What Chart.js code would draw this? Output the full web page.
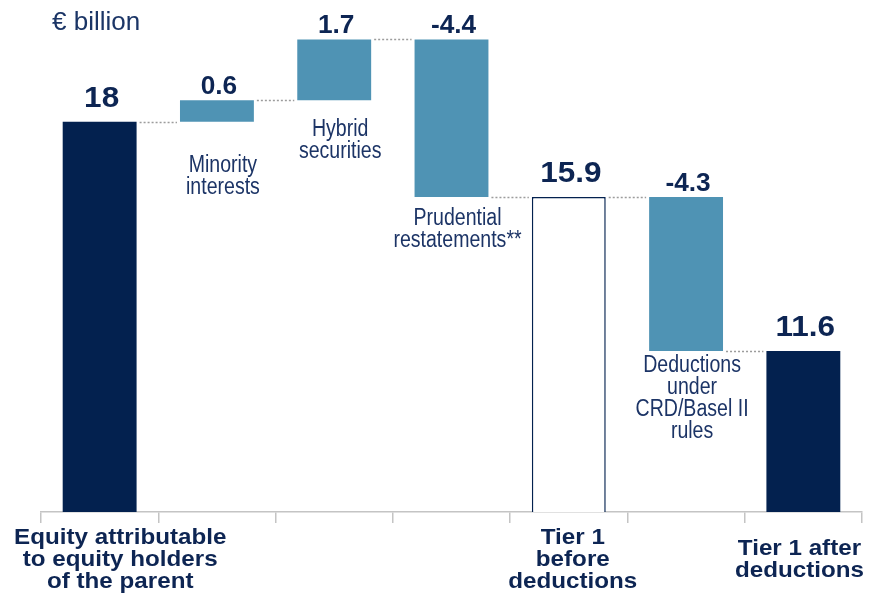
<!DOCTYPE html>
<html>
<head>
<meta charset="utf-8">
<script src="https://cdn.jsdelivr.net/npm/chart.js@4"></script>
<style>
  body { margin: 0; background: #fff; }
  #capitalChart { display: block; }
</style>
</head>
<body>
<canvas id="capitalChart" width="878" height="595"></canvas>
<script>
// Tier 1 capital walk, € billion
const categories = [
    ['Equity attributable', 'to equity holders', 'of the parent'],
    [],
    [],
    [],
    ['Tier 1', 'before', 'deductions'],
    [],
    ['Tier 1 after', 'deductions']
];
const stepNotes = [
    null,
    ['Minority', 'interests'],
    ['Hybrid', 'securities'],
    ['Prudential', 'restatements**'],
    null,
    ['Deductions', 'under', 'CRD/Basel II', 'rules'],
    null
];
const amounts = [18, 0.6, 1.7, -4.4, 15.9, -4.3, 11.6];
const isTotal = [true, false, false, false, true, false, true];

const NAVY = '#03214f';
const TEAL = '#4f93b4';
const TEXT = '#0d2553';

// floating ranges: totals start from zero, steps move the running total
let running = 0;
const ranges = amounts.map((v, i) => {
    if (isTotal[i]) {
        running = v;
        return [0, v];
    }
    const from = running;
    running = +(running + v).toFixed(1);
    return [from, running];
});
const levels = ranges.map(r => r[1]);

const fillColors = isTotal.map((t, i) => t ? (i === 4 ? '#ffffff' : NAVY) : TEAL);
const borderWidths = isTotal.map((t, i) => i === 4 ? 1.5 : 0);

// draws text squeezed or stretched horizontally around x
function stretchedText(ctx, text, x, y, sx) {
    ctx.save();
    ctx.translate(x, y);
    ctx.scale(sx, 1);
    ctx.fillText(text, 0, 0);
    ctx.restore();
}

const waterfallDecor = {
    id: 'waterfallDecor',
    afterDatasetsDraw(chart, args, opts) {
        const { ctx, chartArea } = chart;
        const meta = chart.getDatasetMeta(0);
        const y = chart.scales.y;

        ctx.save();

        // dotted connectors between neighbouring bars
        ctx.strokeStyle = '#9c9c9c';
        ctx.lineWidth = 1.5;
        ctx.setLineDash([2, 2]);
        for (let i = 0; i < meta.data.length - 1; i++) {
            const a = meta.data[i], b = meta.data[i + 1];
            const py = Math.round(y.getPixelForValue(levels[i])) + 0.5;
            ctx.beginPath();
            ctx.moveTo(a.x + a.width / 2 + 3, py);
            ctx.lineTo(b.x - b.width / 2 - 3, py);
            ctx.stroke();
        }
        ctx.setLineDash([]);

        // value labels above each bar
        ctx.fillStyle = TEXT;
        ctx.textAlign = 'center';
        ctx.textBaseline = 'alphabetic';
        meta.data.forEach((bar, i) => {
            const top = y.getPixelForValue(Math.max(...ranges[i]));
            ctx.font = isTotal[i] ? 'bold 30px "Liberation Sans", Arial, sans-serif'
                                  : 'bold 25px "Liberation Sans", Arial, sans-serif';
            stretchedText(ctx, String(amounts[i]), bar.x + 2, top - (isTotal[i] ? 15 : 6), 1.05);
        });

        // step descriptions under the floating bars
        ctx.font = '23px "Liberation Sans", Arial, sans-serif';
        ctx.fillStyle = '#1c3466';
        ctx.textBaseline = 'top';
        meta.data.forEach((bar, i) => {
            const note = stepNotes[i];
            if (!note) return;
            const bottom = y.getPixelForValue(Math.min(...ranges[i]));
            note.forEach((line, k) => {
                stretchedText(ctx, line, bar.x + 6, bottom + opts.noteGap[i] + k * 22, 0.85);
            });
        });

        // category captions under the axis, kept inside the canvas
        const sx = 1.1;
        ctx.font = 'bold 22px "Liberation Sans", Arial, sans-serif';
        ctx.fillStyle = TEXT;
        ctx.textBaseline = 'middle';
        const margin = 14;
        meta.data.forEach((bar, i) => {
            const lines = categories[i];
            if (!lines.length) return;
            const w = sx * Math.max(...lines.map(l => ctx.measureText(l).width));
            const cx = Math.min(Math.max(bar.x + 4, margin + w / 2), chart.width - margin - w / 2);
            const cy = chartArea.bottom + 48;
            lines.forEach((line, k) => {
                stretchedText(ctx, line, cx, cy + (k - (lines.length - 1) / 2) * 22, sx);
            });
        });

        // unit caption
        ctx.font = '26px "Liberation Sans", Arial, sans-serif';
        ctx.fillStyle = '#1b3566';
        ctx.textAlign = 'left';
        ctx.textBaseline = 'alphabetic';
        ctx.fillText('€ billion', 52, 30);

        ctx.restore();
    }
};

new Chart(document.getElementById('capitalChart'), {
    type: 'bar',
    data: {
        labels: categories.map(c => c.join(' ')),
        datasets: [{
            data: ranges,
            backgroundColor: fillColors,
            borderColor: NAVY,
            borderWidth: borderWidths,
            borderSkipped: false,
            barPercentage: 0.63,
            categoryPercentage: 1
        }]
    },
    options: {
        responsive: false,
        animation: false,
        layout: { padding: { left: 41, right: 16, top: 0, bottom: 0 } },
        scales: {
            x: {
                offset: true,
                grid: {
                    offset: true,
                    drawOnChartArea: false,
                    drawTicks: true,
                    tickLength: 11,
                    color: '#c4c4c4',
                    lineWidth: 1.5
                },
                border: { display: true, color: '#c4c4c4', width: 1.5 },
                ticks: { display: false },
                afterFit: s => { s.height = 83; }
            },
            y: {
                display: false,
                min: 7.1,
                max: 21.4
            }
        },
        plugins: {
            legend: { display: false },
            tooltip: { enabled: false },
            waterfallDecor: { noteGap: [0, 32, 18, 10, 0, 3, 0] }
        }
    },
    plugins: [waterfallDecor]
});
</script>
</body>
</html>
